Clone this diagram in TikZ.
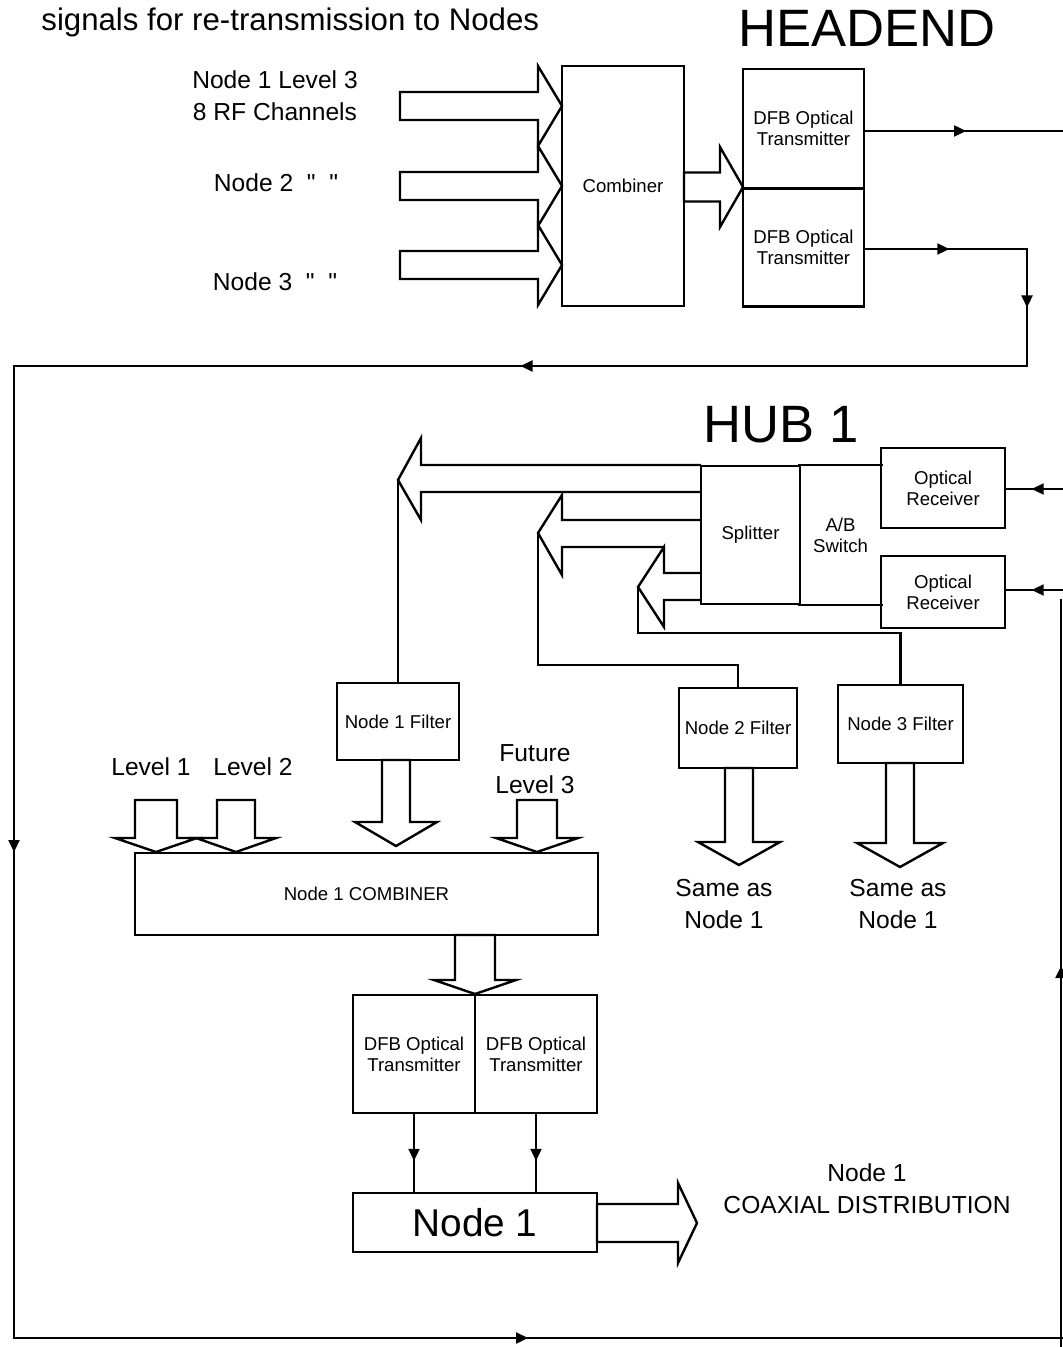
\documentclass[tikz,border=0pt]{standalone}
\usepackage{fontspec}
\setmainfont{Liberation Sans}[Ligatures=TeXOff]
\usetikzlibrary{arrows.meta,decorations.markings}

\tikzset{
  box/.style={draw, line width=1.1pt, inner sep=0pt, align=center,
    font=\fontsize{9.3}{10.5}\selectfont},
  lbl/.style={inner sep=0pt, align=center, font=\fontsize{12.3}{16}\selectfont},
  title/.style={inner sep=0pt, font=\fontsize{26.3}{30}\selectfont},
  wire/.style={line width=1.1pt, line cap=rect},
  blockarrow/.style={line width=1.2pt, line join=miter},
  midarrow/.style={postaction={decorate}, decoration={markings,
    mark=at position #1 with {\arrow{Triangle[length=6pt,width=5.5pt]}}}},
  midarrow/.default=0.5
}

% open block arrows: centre, start, head base, tip, shaft half width, head half width
\newcommand{\hblock}[6]{%
  \draw[blockarrow] (#2,{#1-#5}) -- (#3,{#1-#5}) -- (#3,{#1-#6}) -- (#4,#1)
    -- (#3,{#1+#6}) -- (#3,{#1+#5}) -- (#2,{#1+#5}) -- cycle;}
\newcommand{\vblock}[6]{%
  \draw[blockarrow] ({#1-#5},#2) -- ({#1-#5},#3) -- ({#1-#6},#3) -- (#1,#4)
    -- ({#1+#6},#3) -- ({#1+#5},#3) -- ({#1+#5},#2) -- cycle;}

\begin{document}
\begin{tikzpicture}[x=0.5pt, y=-0.5pt]
  \useasboundingbox (0,0) rectangle (1063,1347);

  % headend
  \node[anchor=base west, inner sep=0pt, font=\fontsize{15.6}{18}\selectfont] (caption) at (41,31) {signals for re-transmission to Nodes};
  \node[title] (headend) at (867,28) {HEADEND};

  \node[lbl] (in1) at (275,96) {Node 1 Level 3\\8 RF Channels};
  \node[lbl] (in2) at (276,183) {Node 2~~"~~"};
  \node[lbl] (in3) at (275,282) {Node 3~~"~~"};
  \foreach \c in {106,186,265}
    \hblock{\c}{400}{538}{562}{14}{40};

  \node[box, minimum width=61pt, minimum height=120pt] (comb) at (623,186) {Combiner};
  \node[box, minimum width=60.5pt, minimum height=59.5pt] (dfbA) at (803.5,128.5) {DFB Optical\\Transmitter};
  \node[box, minimum width=60.5pt, minimum height=59pt] (dfbB) at (803.5,247.5) {DFB Optical\\Transmitter};
  \hblock{187}{684}{720}{743}{14.5}{40};

  \coordinate (outA) at (1063,131);
  \draw[wire, midarrow=0.51] (dfbA.east |- outA) -- (outA);

  % return loop
  \coordinate (ret1) at (1027,249);
  \coordinate (ret2) at (1027,366);
  \coordinate (ret3) at (14,366);
  \coordinate (ret4) at (14,1338);
  \coordinate (ret5) at (1063,1338);
  \draw[wire, midarrow=0.52] (dfbB.east |- ret1) -- (ret1);
  \draw[wire, midarrow] (ret1) -- (ret2);
  \draw[wire, midarrow] (ret2) -- (ret3);
  \draw[wire, midarrow] (ret3) -- (ret4);
  \draw[wire, midarrow=0.49] (ret4) -- (ret5);

  % hub 1
  \node[title] (hub) at (781,425) {HUB 1};
  \node[box, minimum width=62pt, minimum height=40pt] (rxA) at (943,488) {Optical\\Receiver};
  \node[box, minimum width=62pt, minimum height=36pt] (rxB) at (943,592) {Optical\\Receiver};
  \node[box, minimum width=49.5pt, minimum height=69pt] (split) at (750.5,535) {Splitter};
  \node[box, draw=none, minimum width=40.5pt, minimum height=69pt] (absw) at (840.5,535) {A/B\\Switch};
  \draw[wire] (absw.north west) -- (absw.north east);
  \draw[wire] (absw.south west) -- (absw.south east);

  \coordinate (inA) at (1063,489);
  \coordinate (inB) at (1063,590);
  \draw[wire, midarrow=0.55] (inA) -- (rxA.east |- inA);
  \draw[wire, midarrow=0.55] (inB) -- (rxB.east |- inB);
  \coordinate (rtop) at (1061,600);
  \coordinate (rbot) at (1061,1347);
  \draw[wire, midarrow=0.51] (rbot) -- (rtop);

  % splitter outputs
  \coordinate (tipA) at (398,480);
  \coordinate (tipB) at (538,533);
  \coordinate (tipC) at (638,587);
  \draw[blockarrow] (701,465) -- (421,465) -- (421,438) -- (tipA) -- (421,520) -- (421,492) -- (701,492);
  \draw[blockarrow] (701,520) -- (562,520) -- (562,495) -- (tipB) -- (562,575) -- (562,547) -- (664,547);
  \draw[blockarrow] (701,573) -- (664,573) -- (664,547) -- (tipC) -- (664,627) -- (664,600) -- (701,600);

  \node[box, minimum width=61pt, minimum height=38.5pt] (nf1) at (398,721.5) {Node 1 Filter};
  \node[box, minimum width=59pt, minimum height=40pt] (nf2) at (738,728) {Node 2 Filter};
  \node[box, minimum width=62.5pt, minimum height=39pt] (nf3) at (900.5,724) {Node 3 Filter};
  \draw[wire] (tipA) -- (tipA |- nf1.north);
  \draw[wire] (tipB) -- ++(0,132) -| (nf2.north);
  \draw[wire] (tipC) -- ++(0,46) -| (nf3.north);

  \vblock{396}{760}{822}{846}{14}{41};
  \vblock{739}{768}{842}{865}{14}{41};
  \vblock{900}{763}{843}{867}{14}{43};
  \node[lbl] (same2) at (724,904) {Same as\\Node 1};
  \node[lbl] (same3) at (898,904) {Same as\\Node 1};

  % node 1 combiner
  \node[lbl] (lv1) at (151,767) {Level 1};
  \node[lbl] (lv2) at (253,767) {Level 2};
  \node[lbl] (lv3) at (535,769) {Future\\Level 3};
  \vblock{156}{800}{838}{852}{21}{41};
  \vblock{236}{800}{838}{852}{19}{40};
  \vblock{537}{800}{838}{852}{20}{41};
  \node[box, minimum width=231.5pt, minimum height=41pt] (ncomb) at (366.5,894) {Node 1 COMBINER};

  \vblock{475}{935}{980}{994}{20}{41};
  \node[box, minimum width=61pt, minimum height=59pt] (dfbC) at (414,1054) {DFB Optical\\Transmitter};
  \node[box, minimum width=61pt, minimum height=59pt] (dfbD) at (536,1054) {DFB Optical\\Transmitter};
  \node[box, minimum width=122pt, minimum height=29.5pt, font=\fontsize{19.4}{22}\selectfont] (node1) at (475,1222.5) {Node 1};
  \draw[wire, midarrow=0.6] (dfbC.south) -- (node1.north -| dfbC.south);
  \draw[wire, midarrow=0.6] (dfbD.south) -- (node1.north -| dfbD.south);
  \hblock{1223}{597}{678}{697}{19}{40};
  \node[lbl] (coax) at (867,1189) {Node 1\\COAXIAL DISTRIBUTION};
\end{tikzpicture}
\end{document}
